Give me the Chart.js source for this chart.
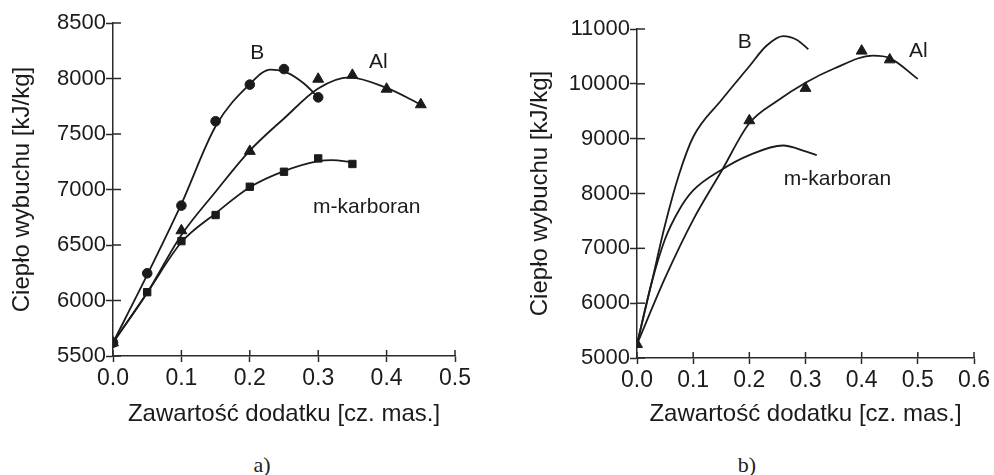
<!DOCTYPE html>
<html>
<head>
<meta charset="utf-8">
<script src="https://cdn.jsdelivr.net/npm/chart.js@4.4.1/dist/chart.umd.min.js"></script>
<style>
  body { margin: 0; background: #fff; width: 994px; height: 475px; overflow: hidden; position: relative; }
  .panel { position: absolute; top: 0; width: 497px; height: 440px; }
  #panelA { left: 0; }
  #panelB { left: 497px; }
  .caption { position: absolute; top: 452px; font-family: "Liberation Serif", "Times New Roman", serif; font-size: 22px; color: #222; transform: translateX(-50%); }
</style>
</head>
<body>
<div class="panel" id="panelA"><canvas id="chartA"></canvas></div>
<div class="panel" id="panelB"><canvas id="chartB"></canvas></div>
<div class="caption" style="left:262px">a)</div>
<div class="caption" style="left:747px">b)</div>
<script>
// ---- a) measured points ----
const bxA = [0, 0.05, 0.1, 0.15, 0.2, 0.25, 0.3];
const byA = [5620, 6245, 6855, 7615, 7945, 8085, 7830];
const alxA = [0, 0.1, 0.2, 0.3, 0.35, 0.4, 0.45];
const alyA = [5620, 6630, 7345, 7995, 8030, 7905, 7765];
const mkxA = [0, 0.05, 0.1, 0.15, 0.2, 0.25, 0.3, 0.35];
const mkyA = [5620, 6075, 6535, 6770, 7025, 7160, 7280, 7230];

// ---- a) fitted curves (read off the figure) ----
const bCurveXA = [0, 0.05, 0.1, 0.15, 0.2, 0.23, 0.255, 0.28, 0.3];
const bCurveYA = [5620, 6230, 6870, 7570, 7950, 8080, 8050, 7950, 7830];
const alCurveXA = [0, 0.05, 0.1, 0.15, 0.2, 0.25, 0.3, 0.345, 0.4, 0.45];
const alCurveYA = [5620, 6070, 6590, 6980, 7350, 7640, 7910, 8010, 7915, 7765];
const mkCurveXA = [0, 0.05, 0.1, 0.15, 0.2, 0.25, 0.3, 0.32, 0.35];
const mkCurveYA = [5620, 6070, 6525, 6785, 7020, 7165, 7255, 7265, 7245];

// ---- b) measured points (Al only) ----
const alxB = [0, 0.2, 0.3, 0.4, 0.45];
const alyB = [5250, 9330, 9920, 10600, 10440];

// ---- b) curves ----
const bCurveXB = [0, 0.025, 0.05, 0.075, 0.1, 0.15, 0.2, 0.23, 0.26, 0.285, 0.305];
const bCurveYB = [5250, 6330, 7430, 8350, 9030, 9700, 10320, 10690, 10870, 10800, 10630];
const alCurveXB = [0, 0.05, 0.1, 0.15, 0.2, 0.25, 0.3, 0.35, 0.42, 0.45, 0.5];
const alCurveYB = [5250, 6460, 7520, 8400, 9280, 9690, 10020, 10275, 10515, 10470, 10090];
const mkCurveXB = [0, 0.025, 0.05, 0.075, 0.1, 0.15, 0.2, 0.26, 0.3, 0.32];
const mkCurveYB = [5250, 6330, 7170, 7700, 8055, 8430, 8700, 8875, 8770, 8700];

// ---- ticks ----
const xTicksA = [0, 0.1, 0.2, 0.3, 0.4, 0.5];
const yTicksA = [5500, 6000, 6500, 7000, 7500, 8000, 8500];
const xTicksB = [0, 0.1, 0.2, 0.3, 0.4, 0.5, 0.6];
const yTicksB = [5000, 6000, 7000, 8000, 9000, 10000, 11000];

const xTitle = 'Zawartość dodatku [cz. mas.]';
const yTitle = 'Ciepło wybuchu [kJ/kg]';
const ink = '#1b1b1b';
const axisInk = '#2a2a2a';
const sans = '"Liberation Sans", Arial, sans-serif';

const pts = (xs, ys) => xs.map((x, i) => ({ x: x, y: ys[i] }));

// text labels next to the curves + inner half of the ticks (they cross the axes)
const curveLabels = {
  id: 'curveLabels',
  afterDatasetsDraw(chart, args, opts) {
    const { ctx } = chart;
    const x = chart.scales.x, y = chart.scales.y;
    ctx.save();
    ctx.font = '21px ' + sans;
    ctx.fillStyle = ink;
    ctx.textAlign = 'center';
    ctx.textBaseline = 'middle';
    (opts.items || []).forEach(it => {
      ctx.fillText(it.text, x.getPixelForValue(it.x), y.getPixelForValue(it.y));
    });
    ctx.strokeStyle = axisInk;
    ctx.lineWidth = 1.5;
    x.ticks.forEach(t => {
      const px = x.getPixelForValue(t.value);
      ctx.beginPath();
      ctx.moveTo(px, y.bottom);
      ctx.lineTo(px, y.bottom - 6);
      ctx.stroke();
    });
    y.ticks.forEach(t => {
      const py = y.getPixelForValue(t.value);
      ctx.beginPath();
      ctx.moveTo(x.left, py);
      ctx.lineTo(x.left + 8, py);
      ctx.stroke();
    });
    ctx.restore();
  }
};

function curve(xs, ys) {
  return {
    data: pts(xs, ys),
    borderColor: ink,
    borderWidth: 1.8,
    pointRadius: 0,
    cubicInterpolationMode: 'monotone',
    fill: false
  };
}

function markers(xs, ys, style, r) {
  return {
    data: pts(xs, ys),
    showLine: false,
    pointStyle: style,
    pointRadius: r,
    pointBackgroundColor: ink,
    pointBorderColor: ink,
    pointBorderWidth: 1
  };
}

function makeChart(id, p) {
  return new Chart(document.getElementById(id), {
    type: 'line',
    data: { datasets: p.datasets },
    plugins: [curveLabels],
    options: {
      responsive: true,
      maintainAspectRatio: false,
      animation: false,
      layout: { padding: p.padding },
      plugins: {
        legend: { display: false },
        tooltip: { enabled: false },
        curveLabels: { items: p.labels }
      },
      scales: {
        x: {
          type: 'linear',
          min: 0,
          max: p.xTicks[p.xTicks.length - 1],
          afterBuildTicks: s => { s.ticks = p.xTicks.map(v => ({ value: v })); },
          afterFit: s => { s.height = p.xHeight; },
          ticks: {
            color: ink,
            font: { family: sans, size: 23 },
            padding: 3,
            maxRotation: 0,
            callback: v => v.toFixed(1)
          },
          grid: { drawOnChartArea: false, tickLength: 6, tickColor: axisInk, tickWidth: 1.5 },
          border: { color: axisInk, width: 1.5 },
          title: {
            display: true,
            text: xTitle,
            color: ink,
            font: { family: sans, size: 24 },
            padding: { top: 0, bottom: 11 }
          }
        },
        y: {
          type: 'linear',
          min: p.yTicks[0],
          max: p.yTicks[p.yTicks.length - 1],
          afterBuildTicks: s => { s.ticks = p.yTicks.map(v => ({ value: v })); },
          afterFit: s => { s.width = p.yWidth; },
          ticks: {
            color: ink,
            font: { family: sans, size: 22 },
            padding: 0,
            callback: v => String(v)
          },
          grid: { drawOnChartArea: false, tickLength: 7, tickColor: axisInk, tickWidth: 1.5 },
          border: { color: axisInk, width: 1.5 },
          title: {
            display: true,
            text: yTitle,
            color: ink,
            font: { family: sans, size: 24 },
            padding: { top: p.yTitlePad, bottom: 0 }
          }
        }
      }
    }
  });
}

makeChart('chartA', {
  datasets: [
    curve(bCurveXA, bCurveYA),
    curve(alCurveXA, alCurveYA),
    curve(mkCurveXA, mkCurveYA),
    markers(bxA, byA, 'circle', 4.8),
    markers(alxA, alyA, 'triangle', 6.3),
    markers(mkxA, mkyA, 'rect', 5.2)
  ],
  xTicks: xTicksA,
  yTicks: yTicksA,
  padding: { top: 23, right: 42, left: 0, bottom: 0 },
  yWidth: 113,
  xHeight: 84,
  yTitlePad: 8,
  labels: [
    { text: 'B', x: 0.211, y: 8230 },
    { text: 'Al', x: 0.388, y: 8150 },
    { text: 'm-karboran', x: 0.371, y: 6842 }
  ]
});

makeChart('chartB', {
  datasets: [
    curve(bCurveXB, bCurveYB),
    curve(alCurveXB, alCurveYB),
    curve(mkCurveXB, mkCurveYB),
    markers(alxB, alyB, 'triangle', 6.3)
  ],
  xTicks: xTicksB,
  yTicks: yTicksB,
  padding: { top: 29, right: 20, left: 0, bottom: 0 },
  yWidth: 140,
  xHeight: 82,
  yTitlePad: 29,
  labels: [
    { text: 'B', x: 0.192, y: 10754 },
    { text: 'Al', x: 0.501, y: 10590 },
    { text: 'm-karboran', x: 0.357, y: 8254 }
  ]
});
</script>
</body>
</html>
